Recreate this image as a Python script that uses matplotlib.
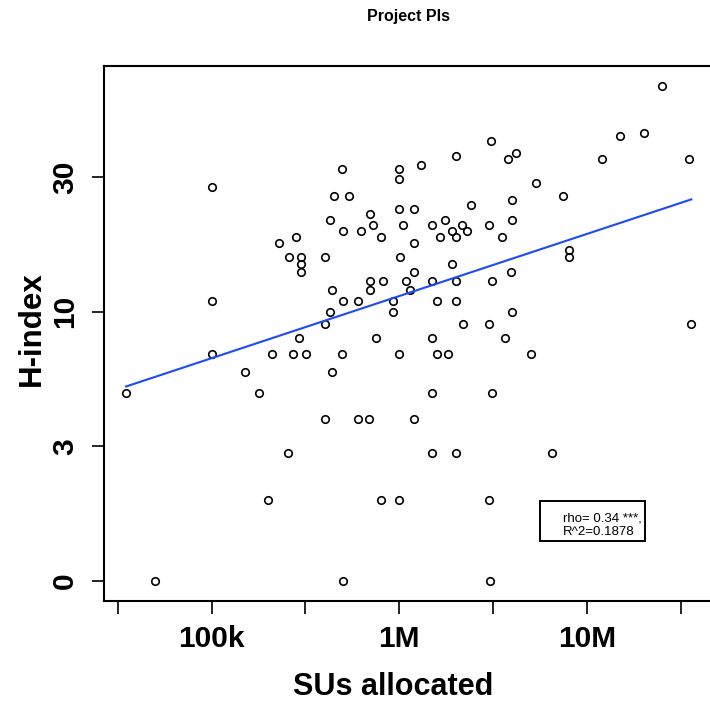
import matplotlib.pyplot as plt
from matplotlib.patches import Rectangle
from matplotlib.ticker import NullLocator
import numpy as np

# SUs allocated (thousands) and H-index of each project PI
su_k = [35.1, 50, 100, 100, 100, 150, 179, 201, 210, 230,
        256, 258, 270, 282, 293, 301, 301, 301, 318, 400,
        400, 400, 430, 430, 439, 439, 450, 498, 500, 500,
        498, 500, 538, 601, 601, 624, 686, 697, 697, 697,
        725, 753, 800, 799, 820, 927, 927, 998, 998, 998,
        1044, 1006, 998, 998, 1083, 1137, 1199, 1199, 1199, 1199,
        1302, 1495, 1495, 1495, 1495, 1495, 1597, 1597, 1657, 1747,
        1806, 1897, 1911, 1992, 1992, 1992, 1992, 1992, 2170, 2187,
        2296, 2394, 2997, 2997, 2997, 3034, 3071, 3097, 3108, 3537,
        3633, 3783, 3939, 3987, 3987, 3987, 4172, 4996, 5332, 6463,
        7470, 7990, 7990, 11980, 14990, 19970, 24900, 34790, 35870]
h_index = [4, 0, 28, 10, 6, 5, 4, 1, 6, 17,
           2, 15, 6, 18, 7, 15, 14, 13, 6, 15,
           8, 3, 21, 9, 11, 5, 26, 33, 19, 10,
           6, 0, 26, 10, 3, 19, 3, 22, 12, 11,
           20, 7, 18, 1, 12, 10, 9, 33, 30, 23,
           20, 15, 6, 1, 12, 11, 23, 17, 13, 3,
           34, 20, 12, 7, 4, 2, 10, 6, 18, 21,
           6, 14, 19, 37, 18, 12, 10, 2, 20, 8,
           19, 24, 20, 8, 1, 0, 42, 12, 4, 18,
           7, 36, 13, 25, 21, 9, 38, 6, 29, 2,
           26, 16, 15, 36, 44, 45, 68, 36, 8]

x_ticks = [10**4.5, 1e5, 10**5.5, 1e6, 10**6.5, 1e7, 10**7.5]
x_tick_labels = ['', '100k', '', '1M', '', '10M', '']
y_tick_pos = [0, 0.5, 1.0, 1.5]          # in log10(h+1)
y_tick_labels = ['0', '3', '10', '30']
rho_text = 'rho= 0.34 ***,'
r2_text = 'R^2=0.1878'

plt.rcParams['font.family'] = ['Liberation Sans', 'DejaVu Sans']


def fwd(h):
    return np.log10(np.maximum(np.asarray(h, dtype=float) + 1, 1e-6))


def inv(v):
    return 10 ** np.asarray(v, dtype=float) - 1


su = np.array(su_k) * 1e3
h = np.array(h_index)
lx = np.log10(su)
ly = fwd(h)

fig = plt.figure(figsize=(7.1, 7.02), dpi=100)
ax = fig.add_axes([103.5 / 710, 1 - 601 / 702, 610.4 / 710, 535 / 702])
ax.set_xscale('log')
ax.set_yscale('function', functions=(fwd, inv))

ax.plot(su, h, 'o', mfc='none', mec='black', ms=5.4, mew=1.2)

# least squares fit in log-log space
b, a = np.polyfit(lx, ly, 1)
xs = np.array([lx.min(), lx.max()])
ax.plot(10 ** xs, inv(a + b * xs), color='#1c4af7', lw=1.5)

# R style 4% padding
px = 0.04 * (lx.max() - lx.min())
py = 0.04 * (ly.max() - ly.min())
ax.set_xlim(10 ** (lx.min() - px), 10 ** (lx.max() + px))
ax.set_ylim(inv(ly.min() - py), inv(ly.max() + py))

ax.set_xticks(x_ticks)
ax.set_xticklabels(x_tick_labels, fontsize=21.5, fontweight='bold')
ax.xaxis.set_minor_locator(NullLocator())
ax.set_yticks(inv(y_tick_pos))
ax.set_yticklabels(y_tick_labels, fontsize=21.5, fontweight='bold',
                   rotation=90, va='center')
ax.yaxis.set_minor_locator(NullLocator())
ax.tick_params(axis='both', direction='out', length=9, width=1.2)
ax.tick_params(axis='x', pad=8)
ax.tick_params(axis='y', pad=8.4)
for s in ax.spines.values():
    s.set_linewidth(1.5)

ax.set_xlabel('SUs allocated', fontsize=22, fontweight='bold')
ax.xaxis.set_label_coords((393 - 103.5) / 610.4, (601 - 695) / 535)
ax.xaxis.label.set_va('baseline')
ax.set_ylabel('H-index', fontsize=22.5, fontweight='bold')
ax.yaxis.set_label_coords((32 - 103.5) / 610.4, 0.51)
ax.yaxis.label.set_va('center')

ax.set_title('Project PIs', fontsize=11.5, fontweight='bold', pad=32.4)

# legend-like box
ax.add_patch(Rectangle((0.7156, 0.1127), 0.1716, 0.0748, transform=ax.transAxes,
                       fill=False, lw=1.4, edgecolor='black', clip_on=False))
ax.text(0.7533, 0.1533, rho_text, transform=ax.transAxes, fontsize=9.5, va='center')
ax.text(0.7533, 0.1284, r2_text, transform=ax.transAxes, fontsize=9.5, va='center')

plt.savefig('out.png', dpi=100)
